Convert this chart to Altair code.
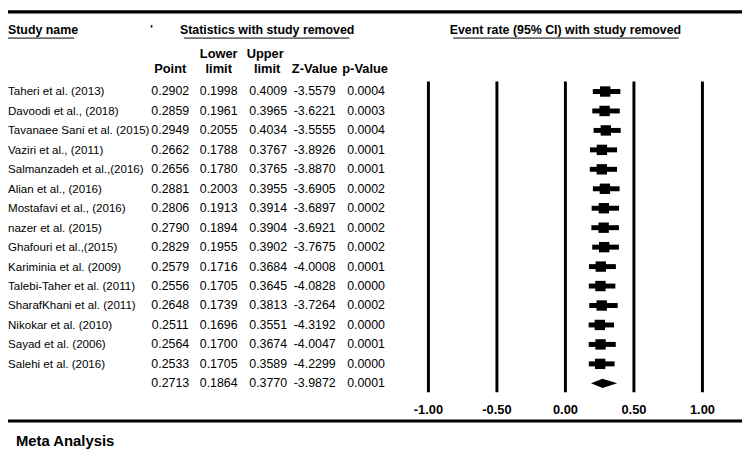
import altair as alt
import pandas as pd

studies = [
    "Taheri et al. (2013)",
    "Davoodi et al., (2018)",
    "Tavanaee Sani et al. (2015)",
    "Vaziri et al., (2011)",
    "Salmanzadeh et al.,(2016)",
    "Alian et al., (2016)",
    "Mostafavi et al., (2016)",
    "nazer et al. (2015)",
    "Ghafouri et al.,(2015)",
    "Kariminia et al.  (2009)",
    "Talebi-Taher et al. (2011)",
    "SharafKhani et al. (2011)",
    "Nikokar et al. (2010)",
    "Sayad et al. (2006)",
    "Salehi et al. (2016)",
]
point = [0.2902, 0.2859, 0.2949, 0.2662, 0.2656, 0.2881, 0.2806, 0.2790, 0.2829,
         0.2579, 0.2556, 0.2648, 0.2511, 0.2564, 0.2533]
lower = [0.1998, 0.1961, 0.2055, 0.1788, 0.1780, 0.2003, 0.1913, 0.1894, 0.1955,
         0.1716, 0.1705, 0.1739, 0.1696, 0.1700, 0.1705]
upper = [0.4009, 0.3965, 0.4034, 0.3767, 0.3765, 0.3955, 0.3914, 0.3904, 0.3902,
         0.3684, 0.3645, 0.3813, 0.3551, 0.3674, 0.3589]
zval = [-3.5579, -3.6221, -3.5555, -3.8926, -3.8870, -3.6905, -3.6897, -3.6921, -3.7675,
        -4.0008, -4.0828, -3.7264, -4.3192, -4.0047, -4.2299]
pval = [0.0004, 0.0003, 0.0004, 0.0001, 0.0001, 0.0002, 0.0002, 0.0002, 0.0002,
        0.0001, 0.0000, 0.0002, 0.0000, 0.0001, 0.0000]

summary_point = 0.2713
summary_lower = 0.1864
summary_upper = 0.3770
summary_z = -3.9872
summary_p = 0.0001

ticks = [-1.0, -0.5, 0.0, 0.5, 1.0]
tick_labels = ["-1.00", "-0.50", "0.00", "0.50", "1.00"]

FONT = "Liberation Sans"
n = len(studies)
rows = pd.DataFrame({
    "row": list(range(n + 1)),
    "study": studies + [""],
    "point": point + [summary_point],
    "lower": lower + [summary_lower],
    "upper": upper + [summary_upper],
    "z": zval + [summary_z],
    "p": pval + [summary_p],
})
for c in ["point", "lower", "upper", "z", "p"]:
    rows[c + "_s"] = [f"{v:.4f}" for v in rows[c]]
study_rows = rows.iloc[:n]
summary_row = n

xscale = alt.Scale(domain=[-1, 1], range=[425, 702], nice=False, zero=False)
yscale = alt.Scale(domain=[0, n], range=[82, 377], nice=False, zero=False)
Y = alt.Y("row:Q", scale=yscale, axis=None)

one = alt.Data(values=[{}])


def label(text, x, y, size=12, bold=False, align="center"):
    return alt.Chart(one).mark_text(
        text=text, fontSize=size, fontWeight="bold" if bold else "normal",
        align=align, baseline="middle", font=FONT, color="black"
    ).encode(x=alt.value(x), y=alt.value(y))


def hline(x1, x2, y, w):
    return alt.Chart(one).mark_rule(strokeWidth=w, color="black").encode(
        x=alt.value(x1), x2=alt.value(x2), y=alt.value(y))


layers = []
# frame lines
layers.append(hline(0, 742, 1.5, 3.5))
layers.append(hline(0, 742, 415, 3))
# headers
layers.append(label("Study name", 0, 20, 12.5, True, "left"))
layers.append(hline(0, 67, 28, 1))
layers.append(label("'", 145, 20, 11, True))
layers.append(label("Statistics with study removed", 262, 20, 12.5, True))
layers.append(hline(178, 345, 28, 1))
layers.append(label("Event rate (95% CI) with study removed", 563.5, 20, 12.5, True))
layers.append(hline(450, 678, 28, 1))
layers.append(label("Lower", 213, 44, 13, True))
layers.append(label("Upper", 260, 44, 13, True))
layers.append(label("Point", 164, 59, 13, True))
layers.append(label("limit", 213, 59, 13, True))
layers.append(label("limit", 262, 59, 13, True))
layers.append(label("Z-Value", 310, 59, 13, True))
layers.append(label("p-Value", 361, 59, 13, True))

# table text
base = alt.Chart(rows)
layers.append(base.mark_text(align="left", fontSize=11.7, font=FONT, baseline="middle",
                             color="black").encode(
    x=alt.value(0), y=Y, text="study:N"))
for field, cx in [("point", 164), ("lower", 213), ("upper", 263), ("z", 310), ("p", 362)]:
    layers.append(base.mark_text(align="center", fontSize=12.5, font=FONT,
                                 baseline="middle", color="black").encode(
        x=alt.value(cx), y=Y, text=f"{field}_s:N"))

# forest plot
tick_df = pd.DataFrame({"t": ticks, "lab": tick_labels})
layers.append(alt.Chart(tick_df).mark_rule(strokeWidth=3, color="black").encode(
    x=alt.X("t:Q", scale=xscale, axis=None), y=alt.value(72), y2=alt.value(386)))
layers.append(alt.Chart(tick_df).mark_text(
    fontSize=13, fontWeight="bold", font=FONT, baseline="middle", color="black").encode(
    x=alt.X("t:Q", scale=xscale, axis=None), y=alt.value(404.5), text="lab:N"))

layers.append(alt.Chart(study_rows).mark_rule(strokeWidth=5, color="black").encode(
    x=alt.X("lower:Q", scale=xscale, axis=None), x2="upper:Q", y=Y))
layers.append(alt.Chart(study_rows).mark_square(size=110, opacity=1, color="black").encode(
    x=alt.X("point:Q", scale=xscale, axis=None), y=Y))

diamond = pd.DataFrame({
    "x": [summary_lower, summary_point, summary_upper],
    "y": [summary_row, summary_row - 0.24, summary_row],
    "y2": [summary_row, summary_row + 0.24, summary_row],
})
layers.append(alt.Chart(diamond).mark_area(color="black", opacity=1).encode(
    x=alt.X("x:Q", scale=xscale, axis=None),
    y=alt.Y("y:Q", scale=yscale, axis=None), y2="y2:Q"))

layers.append(label("Meta Analysis", 8, 435, 15, True, "left"))

chart = alt.layer(*layers).properties(
    width=742, height=443,
    autosize=alt.AutoSizeParams(type="none"),
    padding=0,
).configure_view(stroke=None)

chart.save("out.html", embed_options={"renderer": "svg", "actions": False})
